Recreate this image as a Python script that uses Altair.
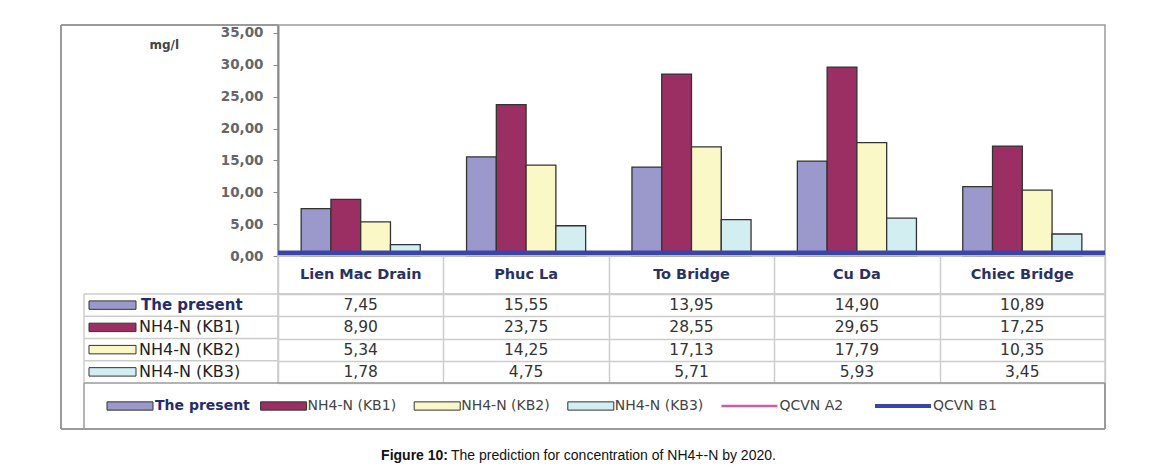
import altair as alt
import pandas as pd

# ---------------- data ----------------
categories = ["Lien Mac Drain", "Phuc La", "To Bridge", "Cu Da", "Chiec Bridge"]
series = ["The present", "NH4-N (KB1)", "NH4-N (KB2)", "NH4-N (KB3)"]
present = [7.45, 15.55, 13.95, 14.90, 10.89]
kb1 = [8.90, 23.75, 28.55, 29.65, 17.25]
kb2 = [5.34, 14.25, 17.13, 17.79, 10.35]
kb3 = [1.78, 4.75, 5.71, 5.93, 3.45]
qcvn_names = ["QCVN A2", "QCVN B1"]
qcvn_values = [0.2, 0.5]
y_ticks = [0, 5, 10, 15, 20, 25, 30, 35]
caption_bold = "Figure 10:"
caption_text = "The prediction for concentration of NH4+-N by 2020."

# ---------------- styles ----------------
series_colors = ["#9b98cc", "#9b2f63", "#fbf8c8", "#d2eef0"]
qcvn_colors = ["#d45aa8", "#3a45a8"]
FRAME = "#9a9a9a"
GRID = "#cccccc"
NAVY = "#262c6a"
FONT = "DejaVu Sans"
LEFT_W = 217
MAIN_W = 827
PLOT_H = 231
HDR_H = 38
TBL_H = 89
LEG_H = 46
CAP_H = 40
RECT_PATH = "M-1,-0.18H1V0.18H-1Z"

rows = []
for s, vals in zip(series, [present, kb1, kb2, kb3]):
    for c, v in zip(categories, vals):
        rows.append({"cat": c, "series": s, "value": v})
df = pd.DataFrame(rows)
qcvn_df = pd.DataFrame({"name": qcvn_names, "value": qcvn_values})
cat_df = pd.DataFrame({"cat": categories})
ser_df = pd.DataFrame({"series": series})
legend_names = series + qcvn_names
legend_df = pd.DataFrame({"name": legend_names})
one = pd.DataFrame({"k": [0]})

# one colour scale shared by every panel (concat shares colour scales)
COLOR_SCALE = alt.Scale(domain=legend_names, range=series_colors + qcvn_colors)

no_axis = dict(labels=False, ticks=False, domain=False, title=None)


def frame_left():
    return alt.Chart(one).mark_rule(color=FRAME, strokeWidth=2).encode(x=alt.value(0))


# ---------------- row 1: bars ----------------
spacer1 = alt.layer(
    frame_left(),
    alt.Chart(one).mark_rule(color=FRAME, strokeWidth=2).encode(y=alt.value(0)),
).properties(width=LEFT_W, height=PLOT_H)

Y_SCALE = alt.Scale(domain=[0, 36.25], nice=False)
Y_AXIS = alt.Axis(values=y_ticks, grid=False, labelOverlap=False, labelBound=False,
                  labelExpr="replace(format(datum.value, '.2f'), '.', ',')",
                  labelFont=FONT, labelFontSize=13.5, labelFontWeight="bold",
                  labelColor="#666666", labelPadding=10,
                  tickColor="#8a8a8a", tickSize=5, domainColor="#8a8a8a",
                  domainWidth=2, title="mg/l", titleAngle=0, titleX=-129,
                  titleY=19, titleAlign="left", titleBaseline="middle",
                  titleFont=FONT, titleFontSize=12, titleFontWeight="bold",
                  titleColor="#444444")

bars = alt.Chart(df).mark_bar(stroke="#333333", strokeWidth=1.3).encode(
    x=alt.X("cat:N", sort=categories,
            scale=alt.Scale(paddingInner=0.28, paddingOuter=0.14), axis=None),
    xOffset=alt.XOffset("series:N", sort=series,
                        scale=alt.Scale(paddingInner=0, paddingOuter=0)),
    y=alt.Y("value:Q", scale=Y_SCALE, axis=Y_AXIS),
    color=alt.Color("series:N", scale=COLOR_SCALE, legend=None),
)
rules = alt.Chart(qcvn_df).mark_rule().encode(
    y=alt.Y("value:Q", scale=Y_SCALE, axis=Y_AXIS),
    stroke=alt.Stroke("name:N", scale=alt.Scale(domain=qcvn_names, range=qcvn_colors),
                      legend=None),
    strokeWidth=alt.condition("datum.name == 'QCVN B1'", alt.value(4.5), alt.value(2.5)),
)
plot = alt.layer(bars, rules).properties(
    width=MAIN_W, height=PLOT_H,
    view=alt.ViewBackground(stroke=FRAME, strokeWidth=1.5))

# ---------------- row 2: header ----------------
spacer2 = frame_left().properties(width=LEFT_W, height=HDR_H)
header = alt.Chart(cat_df).mark_text(
    font=FONT, fontSize=14.5, fontWeight="bold", color="#2b3262").encode(
    x=alt.X("cat:N", sort=categories,
            scale=alt.Scale(type="band", paddingInner=0, paddingOuter=0),
            axis=alt.Axis(grid=True, tickBand="extent", gridColor=GRID,
                          gridWidth=1.5, **no_axis)),
    text="cat:N",
).properties(width=MAIN_W, height=HDR_H,
             view=alt.ViewBackground(stroke=GRID, strokeWidth=1.5))

# ---------------- row 3: data table ----------------
yband = alt.Scale(type="band", paddingInner=0, paddingOuter=0)
row_lines = alt.Chart(ser_df).mark_rule(color=GRID, strokeWidth=1.5).encode(
    y=alt.Y("series:N", sort=series, scale=yband, bandPosition=0, axis=None),
    x=alt.value(23), x2=alt.value(LEFT_W))
box_left = alt.Chart(one).mark_rule(color=GRID, strokeWidth=1.5).encode(x=alt.value(23))
row_keys = alt.Chart(ser_df).mark_point(
    shape=RECT_PATH, size=47 * 47, filled=True, opacity=1,
    stroke="#333333", strokeWidth=1).encode(
    y=alt.Y("series:N", sort=series, scale=yband, axis=None),
    x=alt.value(51.5),
    color=alt.Color("series:N", scale=COLOR_SCALE, legend=None))
row_lbl_bold = alt.Chart(ser_df).transform_filter(
    alt.datum.series == series[0]).mark_text(
    font=FONT, fontSize=15, fontWeight="bold", color=NAVY, align="left").encode(
    y=alt.Y("series:N", sort=series, scale=yband, axis=None),
    x=alt.value(80), text="series:N")
row_lbl = alt.Chart(ser_df).transform_filter(
    alt.datum.series != series[0]).mark_text(
    font=FONT, fontSize=16, color="#222222", align="left").encode(
    y=alt.Y("series:N", sort=series, scale=yband, axis=None),
    x=alt.value(78), text="series:N")
labels_col = alt.layer(frame_left(), box_left, row_lines, row_keys,
                       row_lbl_bold, row_lbl).properties(width=LEFT_W, height=TBL_H)

table = alt.Chart(df).transform_calculate(
    label="replace(format(datum.value, '.2f'), '.', ',')").mark_text(
    font=FONT, fontSize=15.5, color="#333333").encode(
    x=alt.X("cat:N", sort=categories,
            scale=alt.Scale(type="band", paddingInner=0, paddingOuter=0),
            axis=alt.Axis(grid=True, tickBand="extent", gridColor=GRID,
                          gridWidth=1.5, **no_axis)),
    y=alt.Y("series:N", sort=series, scale=yband,
            axis=alt.Axis(grid=True, tickBand="extent", gridColor=GRID,
                          gridWidth=1.5, **no_axis)),
    text="label:N",
).properties(width=MAIN_W, height=TBL_H,
             view=alt.ViewBackground(stroke=GRID, strokeWidth=1.5))

# ---------------- row 4: legend ----------------
leg_left = alt.layer(
    frame_left(),
    alt.Chart(one).mark_rule(color=FRAME, strokeWidth=1.5).encode(x=alt.value(23)),
    alt.Chart(one).mark_rule(color=FRAME, strokeWidth=1.5).encode(
        y=alt.value(0), x=alt.value(23), x2=alt.value(LEFT_W)),
    alt.Chart(one).mark_rule(color=FRAME, strokeWidth=2).encode(y=alt.value(LEG_H)),
).properties(width=LEFT_W, height=LEG_H)

lx = alt.X("name:N", sort=legend_names,
           scale=alt.Scale(type="point", domain=legend_names, range=[-171, 597], padding=0),
           axis=None)
lcolor = alt.Color("name:N", scale=COLOR_SCALE, legend=None)
leg_rect = alt.Chart(legend_df).transform_filter(
    alt.FieldOneOfPredicate(field="name", oneOf=series)).mark_point(
    shape=RECT_PATH, size=46 * 46, filled=True, opacity=1, stroke="#333333",
    strokeWidth=1, xOffset=23).encode(x=lx, color=lcolor)
leg_line = alt.Chart(legend_df).transform_filter(
    alt.FieldOneOfPredicate(field="name", oneOf=qcvn_names)).mark_point(
    shape="stroke", size=56 * 56, filled=False, opacity=1, xOffset=28).encode(
    x=lx, color=lcolor,
    strokeWidth=alt.condition("datum.name == 'QCVN B1'", alt.value(4), alt.value(2.5)))
leg_txt_bold = alt.Chart(legend_df).transform_filter(
    alt.datum.name == series[0]).mark_text(
    font=FONT, fontSize=14, fontWeight="bold", color=NAVY, align="left", dx=48).encode(
    x=lx, text="name:N")
leg_txt = alt.Chart(legend_df).transform_filter(
    alt.FieldOneOfPredicate(field="name", oneOf=series[1:])).mark_text(
    font=FONT, fontSize=14, color="#444444", align="left", dx=47).encode(
    x=lx, text="name:N")
leg_txt_q = alt.Chart(legend_df).transform_filter(
    alt.FieldOneOfPredicate(field="name", oneOf=qcvn_names)).mark_text(
    font=FONT, fontSize=14, color="#444444", align="left", dx=58).encode(
    x=lx, text="name:N")
leg_box = [
    alt.Chart(one).mark_rule(color=FRAME, strokeWidth=1.5).encode(y=alt.value(0)),
    alt.Chart(one).mark_rule(color=FRAME, strokeWidth=2).encode(y=alt.value(LEG_H)),
    alt.Chart(one).mark_rule(color=FRAME, strokeWidth=2).encode(x=alt.value(MAIN_W)),
]
leg_right = alt.layer(*leg_box, leg_rect, leg_line, leg_txt_bold, leg_txt,
                      leg_txt_q).properties(width=MAIN_W, height=LEG_H)

# ---------------- row 5: caption ----------------
cap_left = alt.Chart(one).mark_text(text="").encode(
    x=alt.value(0), y=alt.value(0)).properties(width=LEFT_W, height=CAP_H)
cap_df = pd.DataFrame({"t": [caption_bold]})
cap_df2 = pd.DataFrame({"t": [caption_text]})
cap_right = alt.layer(
    alt.Chart(cap_df).mark_text(font="Liberation Sans", fontSize=14, fontWeight="bold",
                                color="#111111", align="right").encode(
        x=alt.value(170), y=alt.value(27), text="t:N"),
    alt.Chart(cap_df2).mark_text(font="Liberation Sans", fontSize=14,
                                 color="#111111", align="left").encode(
        x=alt.value(173), y=alt.value(27), text="t:N"),
).properties(width=MAIN_W, height=CAP_H)

chart = alt.concat(
    spacer1, plot,
    spacer2, header,
    labels_col, table,
    leg_left, leg_right,
    cap_left, cap_right,
    columns=2, spacing=0, bounds="flush",
).properties(
    padding={"left": 52, "top": 16, "right": 5, "bottom": 0},
    background="white",
).configure_view(stroke=None)

chart.save("out.html", embed_options={"renderer": "svg", "actions": False})
